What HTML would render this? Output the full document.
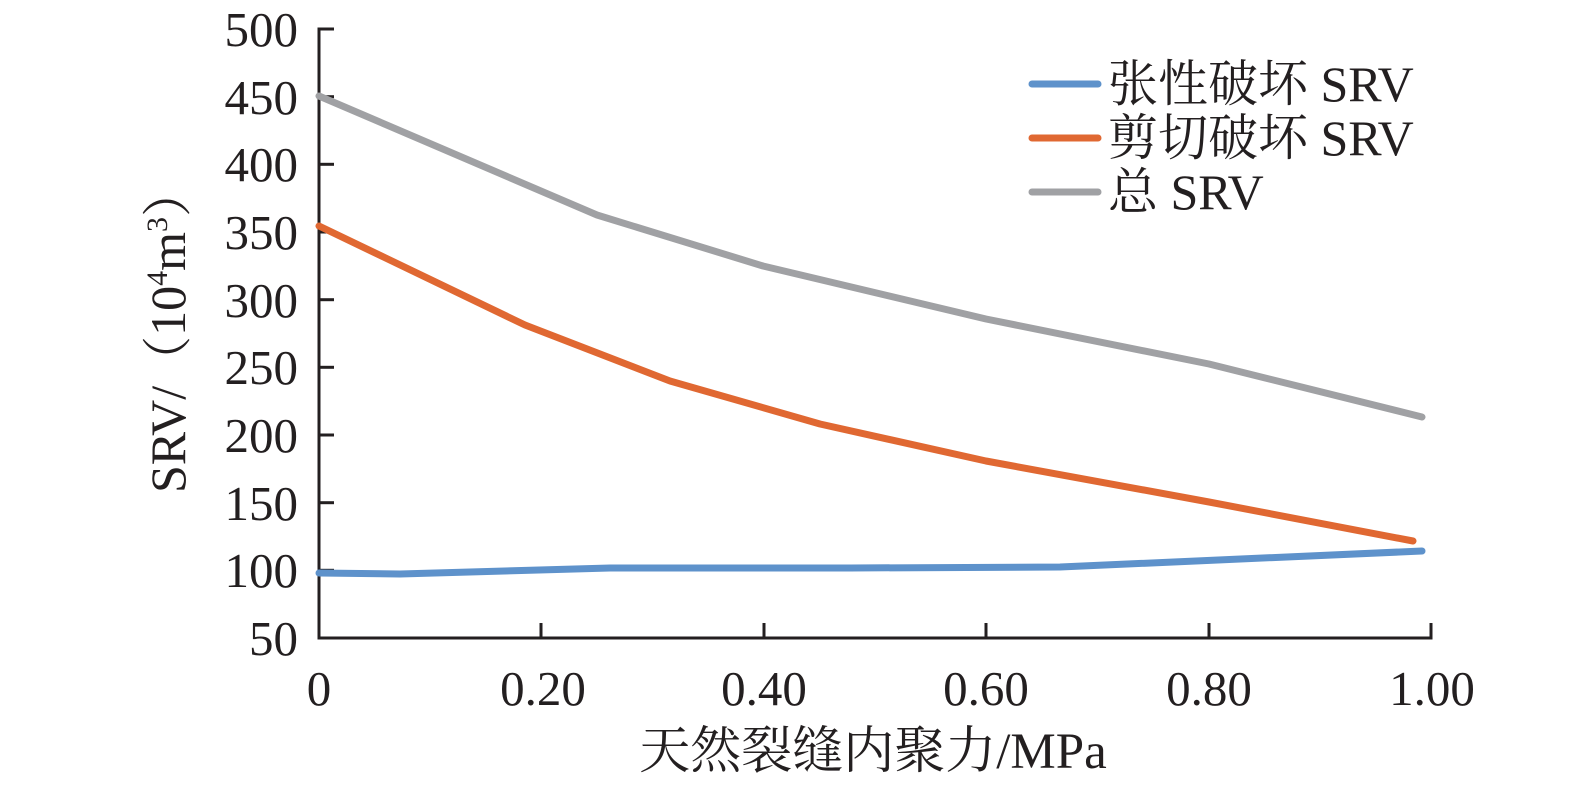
<!DOCTYPE html>
<html><head><meta charset="utf-8"><style>
html,body{margin:0;padding:0;background:#fff;}
svg{display:block;}
text{font-family:"Liberation Serif","Noto Serif CJK SC",serif;fill:#231f20;}
</style></head><body>
<svg width="1575" height="786" viewBox="0 0 1575 786" xmlns="http://www.w3.org/2000/svg">
<g stroke="#231f20" stroke-width="3" fill="none">
<polyline points="334,29 319,29 319,638 1431,638 1431,623"/>
<line x1="319" y1="96.7" x2="334" y2="96.7"/>
<line x1="319" y1="164.3" x2="334" y2="164.3"/>
<line x1="319" y1="232" x2="334" y2="232"/>
<line x1="319" y1="299.7" x2="334" y2="299.7"/>
<line x1="319" y1="367.3" x2="334" y2="367.3"/>
<line x1="319" y1="435" x2="334" y2="435"/>
<line x1="319" y1="502.7" x2="334" y2="502.7"/>
<line x1="319" y1="570.3" x2="334" y2="570.3"/>
<line x1="541" y1="638" x2="541" y2="623"/>
<line x1="764" y1="638" x2="764" y2="623"/>
<line x1="986" y1="638" x2="986" y2="623"/>
<line x1="1209" y1="638" x2="1209" y2="623"/>
</g>
<g font-size="49" text-anchor="end">
<text x="298" y="46">500</text>
<text x="298" y="114">450</text>
<text x="298" y="181">400</text>
<text x="298" y="249">350</text>
<text x="298" y="317">300</text>
<text x="298" y="384">250</text>
<text x="298" y="452">200</text>
<text x="298" y="520">150</text>
<text x="298" y="587">100</text>
<text x="298" y="655">50</text>
</g>
<g font-size="49" text-anchor="middle">
<text x="319" y="705">0</text>
<text x="543" y="705">0.20</text>
<text x="764" y="705">0.40</text>
<text x="986" y="705">0.60</text>
<text x="1209" y="705">0.80</text>
<text x="1432" y="705">1.00</text>
</g>
<text font-size="51" text-anchor="middle" x="873" y="768">天然裂缝内聚力/MPa</text>
<text font-size="50" text-anchor="middle" transform="translate(185,330) rotate(-90)">SRV/（10<tspan font-size="30" dy="-18">4</tspan><tspan dy="18">m</tspan><tspan font-size="30" dy="-18">3</tspan><tspan dy="18">）</tspan></text>
<g fill="none" stroke-width="7" stroke-linecap="round" stroke-linejoin="round">
<polyline stroke="#a0a1a4" points="319,96 597,215 763,266 986,319 1209,364 1422,417"/>
<polyline stroke="#e06832" points="319,226 525,325 670,381 820,424 986,461 1209,502 1413,541"/>
<polyline stroke="#5e92cb" points="319,573 400,574 610,568 850,568 1060,567 1422,551"/>
<line stroke="#5e92cb" x1="1032" y1="84" x2="1098" y2="84"/>
<line stroke="#e06832" x1="1032" y1="138" x2="1098" y2="138"/>
<line stroke="#a0a1a4" x1="1032" y1="192" x2="1098" y2="192"/>
</g>
<g font-size="50">
<text x="1108" y="101">张性破坏 SRV</text>
<text x="1108" y="155">剪切破坏 SRV</text>
<text x="1108" y="209">总 SRV</text>
</g>
</svg>
</body></html>
